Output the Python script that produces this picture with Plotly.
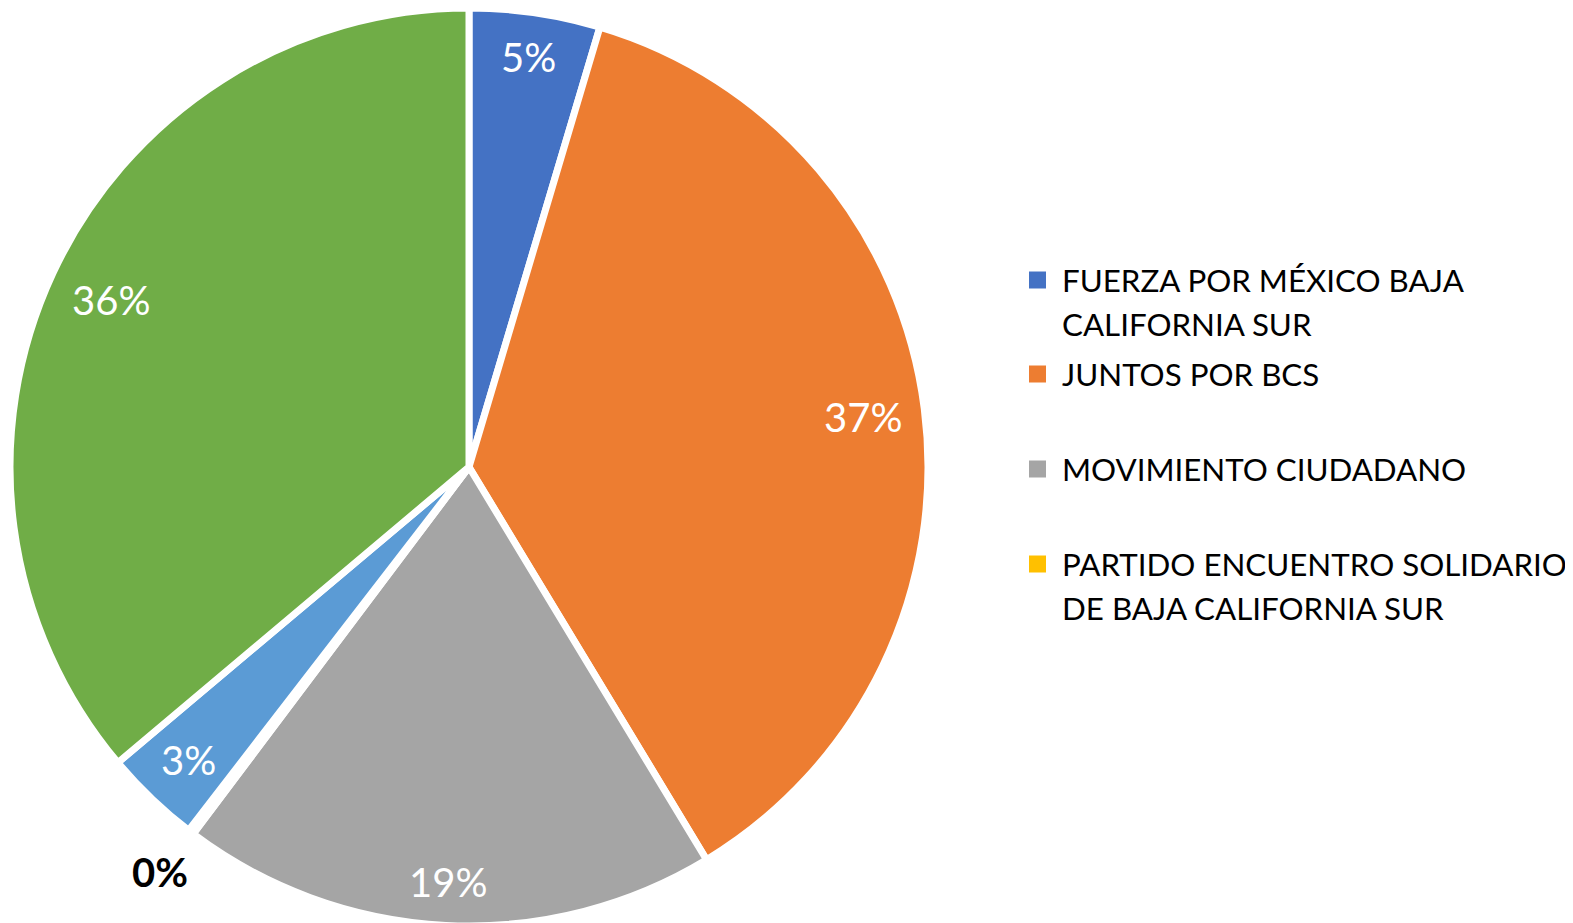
import math

import plotly.graph_objects as go

# slice data, clockwise from 12 o'clock
labels = [
    "FUERZA POR MÉXICO BAJA CALIFORNIA SUR",
    "JUNTOS POR BCS",
    "MOVIMIENTO CIUDADANO",
    "PARTIDO ENCUENTRO SOLIDARIO DE BAJA CALIFORNIA SUR",
    "SERIE 5",
    "SERIE 6",
]
values = [4.6, 36.7, 18.9, 0.2, 3.4, 36.1]
colors = ["#4472C4", "#ED7D31", "#A5A5A5", "#FFC000", "#5B9BD5", "#70AD47"]

# only the first four appear in the legend of the original
legend_lines = [
    ["FUERZA POR MÉXICO BAJA", "CALIFORNIA SUR"],
    ["JUNTOS POR BCS"],
    ["MOVIMIENTO CIUDADANO"],
    ["PARTIDO ENCUENTRO SOLIDARIO", "DE BAJA CALIFORNIA SUR"],
]

W, H = 1573, 923
OFF = 8  # the page body has an 8px margin, so figure coords = page coords - 8
CX, CY, R = 469 - OFF, 467 - OFF, 459  # pie centre / radius in figure pixels
FONT = "Lato"
LABEL_SIZE = 40


def best_fit_distance(ux, uy, w, h, r_in=440):
    """Push a w x h label box out along (ux, uy) until a corner touches r_in."""
    lo, hi = 0.0, float(r_in)
    for _ in range(40):
        d = (lo + hi) / 2
        cx, cy = d * ux, d * uy
        far = max(math.hypot(cx + sx * w / 2, cy + sy * h / 2)
                  for sx in (-1, 1) for sy in (-1, 1))
        if far > r_in:
            hi = d
        else:
            lo = d
    return lo


fig = go.Figure(go.Pie(
    labels=labels,
    values=values,
    sort=False,
    direction="clockwise",
    rotation=0,
    marker=dict(colors=colors, line=dict(color="white", width=7)),
    textinfo="none",
    hoverinfo="label+percent",
    showlegend=False,
    domain=dict(x=[(CX - R) / W, (CX + R) / W],
                y=[max(0, (H - CY - R) / H), min(1, (H - CY + R) / H)]),
))

# percentage labels, Excel "best fit" style: inside, near the rim
total = sum(values)
cum = 0.0
for v in values:
    frac = v / total
    mid = (cum + frac / 2) * 2 * math.pi
    cum += frac
    pct = f"{round(frac * 100)}%"
    ux, uy = math.sin(mid), -math.cos(mid)
    if frac < 0.01:
        d, col, text = 1.11 * R, "black", f"<b>{pct}</b>"
    else:
        box_w = 24 * (len(pct) - 1) + 32
        d, col, text = best_fit_distance(ux, uy, box_w, 42), "white", pct
    fig.add_annotation(
        x=(CX + d * ux) / W, y=1 - (CY + d * uy) / H, xref="paper", yref="paper",
        text=text, showarrow=False, xanchor="center", yanchor="middle",
        font=dict(family=FONT, size=LABEL_SIZE, color=col),
    )

# hand-drawn legend so the item spacing matches the original
item_y = [280 - OFF, 374 - OFF, 469 - OFF, 564 - OFF]
line_gap = 44
sq_x0, sq_x1, text_x = 1029 - OFF, 1046 - OFF, 1060 - OFF
for i, lines in enumerate(legend_lines):
    y0 = item_y[i]
    fig.add_shape(
        type="rect", xref="paper", yref="paper",
        x0=sq_x0 / W, x1=sq_x1 / W, y0=1 - (y0 + 8.5) / H, y1=1 - (y0 - 8.5) / H,
        fillcolor=colors[i], line=dict(width=0),
    )
    for j, txt in enumerate(lines):
        fig.add_annotation(
            x=text_x / W, y=1 - (y0 + j * line_gap) / H, xref="paper", yref="paper",
            text=txt, showarrow=False, xanchor="left", yanchor="middle",
            font=dict(family=FONT, size=31.3, color="black"),
        )

fig.update_layout(
    width=W, height=H,
    margin=dict(l=0, r=0, t=0, b=0),
    paper_bgcolor="white",
    plot_bgcolor="white",
)
fig.write_html("out.html")
